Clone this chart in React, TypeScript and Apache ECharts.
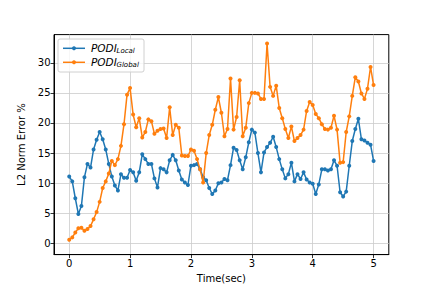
import React, { useEffect, useRef } from "react";
import * as echarts from "echarts";

const times: number[] = Array.from({ length: 101 }, (_, i) => Math.round(i * 5) / 100);

const podiLocal: number[] = [
  11.1, 10.3, 7.5, 4.9, 6.2, 11.0, 13.2, 12.6, 15.6, 17.2,
  18.5, 17.3, 15.6, 13.2, 11.1, 9.6, 8.8, 11.5, 10.9, 10.9,
  12.2, 11.8, 10.4, 11.8, 14.8, 14.0, 13.2, 13.2, 10.8, 9.3,
  12.5, 12.3, 11.8, 13.8, 14.7, 13.8, 12.1, 10.6, 10.1, 9.7,
  12.9, 13.0, 13.2, 12.3, 11.0, 10.5, 9.2, 8.2, 8.8, 10.0,
  10.1, 10.7, 10.5, 13.0, 15.9, 15.5, 13.8, 12.3, 14.3, 16.8,
  18.9, 18.4, 15.0, 11.8, 15.1, 16.0, 16.7, 17.7, 16.0, 14.0,
  12.3, 10.8, 11.5, 13.4, 10.3, 11.5, 10.7, 11.8, 10.6, 10.1,
  9.9, 8.2, 9.8, 12.3, 12.3, 12.1, 12.3, 13.8, 12.9, 8.5,
  7.8, 8.6, 12.9, 17.0, 19.0, 20.7, 17.3, 17.1, 16.7, 16.4,
  13.7,
];

const podiGlobal: number[] = [
  0.6, 1.0, 1.8, 2.5, 2.6, 2.1, 2.4, 2.9, 4.0, 5.2,
  6.9, 9.2, 10.3, 11.6, 13.7, 13.0, 14.0, 16.2, 19.8, 24.7,
  25.8, 21.4, 19.3, 20.8, 17.6, 18.5, 20.6, 20.3, 18.2, 18.7,
  19.0, 19.1, 17.5, 22.6, 18.0, 19.7, 19.2, 14.6, 14.5, 14.5,
  15.6, 15.4, 14.0, 12.3, 10.1, 15.0, 18.0, 19.7, 22.2, 24.3,
  21.7, 17.8, 19.0, 27.4, 18.9, 21.0, 27.1, 17.8, 19.2, 23.3,
  25.0, 25.0, 24.9, 24.0, 24.0, 33.2, 26.0, 24.5, 26.2, 22.5,
  20.8, 19.0, 17.5, 19.4, 17.0, 17.5, 18.0, 18.9, 22.0, 23.5,
  23.0, 21.5, 20.8, 19.8, 19.0, 18.9, 19.2, 21.2, 18.9, 13.4,
  13.5, 18.5, 21.1, 24.5, 27.6, 26.9, 24.9, 24.0, 25.7, 29.3,
  26.3,
];

const xTicks: number[] = [0, 1, 2, 3, 4, 5];
const yTicks: number[] = [0, 5, 10, 15, 20, 25, 30];
const seriesNames: string[] = ["PODI_Local", "PODI_Global"];
const subscripts: string[] = ["Local", "Global"];

const BLUE = "#1f77b4";
const ORANGE = "#ff7f0e";
const FONT = "DejaVu Sans";

export default function App() {
  const ref = useRef<HTMLDivElement>(null);
  useEffect(() => {
    if (!ref.current) return;
    const chart = echarts.init(ref.current, undefined, { renderer: "svg" });
    const colors = [BLUE, ORANGE];
    const legendRows = [48.3, 62.3];
    const legendGraphics: any[] = [
      {
        type: "rect",
        shape: { x: 58, y: 39, width: 86, height: 33, r: 2 },
        style: { fill: "rgba(255,255,255,0.8)", stroke: "#d0d0d0", lineWidth: 1 },
        z: 100,
      },
    ];
    legendRows.forEach((y, i) => {
      legendGraphics.push(
        { type: "line", shape: { x1: 63, y1: y, x2: 85, y2: y }, style: { stroke: colors[i], lineWidth: 1.5 }, z: 101 },
        { type: "circle", shape: { cx: 74, cy: y, r: 2 }, style: { fill: colors[i] }, z: 101 },
        {
          type: "text", x: 91, y: y, z: 101,
          style: { text: "PODI", fontFamily: FONT, fontStyle: "italic", fontSize: 10.5, fill: "#000", verticalAlign: "middle", align: "left" },
        },
        {
          type: "text", x: 116.5, y: y + 2.5, z: 101,
          style: { text: subscripts[i], fontFamily: FONT, fontStyle: "italic", fontSize: 7, fill: "#000", verticalAlign: "middle", align: "left" },
        }
      );
    });

    chart.setOption({
      animation: false,
      backgroundColor: "#fff",
      textStyle: { fontFamily: FONT },
      grid: {
        left: 54, right: 43.2, top: 34.6, bottom: 31.7,
        show: true, borderColor: "#000", borderWidth: 1, backgroundColor: "transparent",
      },
      xAxis: {
        type: "value", min: -0.25, max: 5.25,
        name: "Time(sec)", nameLocation: "middle", nameGap: 14,
        nameTextStyle: { fontFamily: FONT, fontSize: 10, color: "#000" },
        axisLine: { show: true, onZero: false, lineStyle: { color: "#000", width: 1 } },
        axisTick: { show: true, inside: false, length: 3.5, customValues: xTicks, lineStyle: { color: "#000", width: 0.8 } },
        axisLabel: { customValues: xTicks, fontFamily: FONT, fontSize: 10, color: "#000", margin: 3.5 },
        splitLine: { show: true, lineStyle: { color: "#cccccc", width: 0.8 } },
      },
      yAxis: {
        type: "value", min: -1.86, max: 34.68,
        name: "L2 Norm Error %", nameLocation: "middle", nameGap: 27, nameRotate: 90,
        nameTextStyle: { fontFamily: FONT, fontSize: 10, color: "#000" },
        axisLine: { show: true, onZero: false, lineStyle: { color: "#000", width: 1 } },
        axisTick: { show: true, inside: false, length: 3.5, customValues: yTicks, lineStyle: { color: "#000", width: 0.8 } },
        axisLabel: { customValues: yTicks, fontFamily: FONT, fontSize: 10, color: "#000", margin: 3.5 },
        splitLine: { show: true, lineStyle: { color: "#cccccc", width: 0.8 } },
      },
      series: [podiLocal, podiGlobal].map((vals, i) => ({
        name: seriesNames[i],
        type: "line",
        data: times.map((t, j) => [t, vals[j]]),
        symbol: "circle",
        symbolSize: 4,
        showSymbol: true,
        showAllSymbol: true,
        lineStyle: { color: colors[i], width: 1.5 },
        itemStyle: { color: colors[i] },
        z: 3 + i,
      })),
      graphic: legendGraphics,
    });
    return () => chart.dispose();
  }, []);
  return <div ref={ref} style={{ width: 432, height: 288, position: "absolute", left: 0, top: 0 }} />;
}
